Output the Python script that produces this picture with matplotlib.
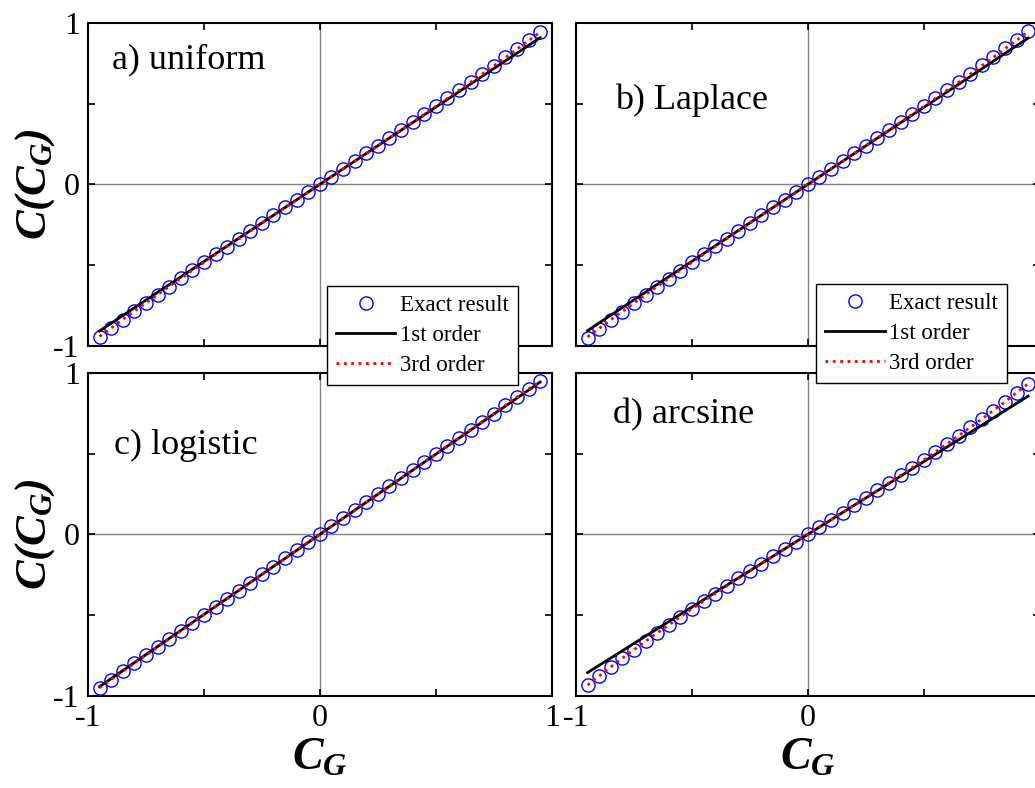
import numpy as np
import matplotlib
matplotlib.use("Agg")
from matplotlib import pyplot as plt

plt.rcParams['font.family'] = ['Liberation Serif', 'DejaVu Serif']
plt.rcParams['mathtext.fontset'] = 'custom'
plt.rcParams['mathtext.rm'] = 'Liberation Serif:italic:bold'
plt.rcParams['mathtext.it'] = 'Liberation Serif:italic:bold'
plt.rcParams['mathtext.bf'] = 'Liberation Serif:bold'

# Gaussian correlation C_G, markers every 0.05
cg = [-0.95, -0.90, -0.85, -0.80, -0.75, -0.70, -0.65, -0.60, -0.55, -0.50,
      -0.45, -0.40, -0.35, -0.30, -0.25, -0.20, -0.15, -0.10, -0.05, 0.0,
      0.05, 0.10, 0.15, 0.20, 0.25, 0.30, 0.35, 0.40, 0.45, 0.50,
      0.55, 0.60, 0.65, 0.70, 0.75, 0.80, 0.85, 0.90, 0.95]
# grid for the 3rd order curves
cg3 = [-0.95, -0.85, -0.75, -0.65, -0.55, -0.45, -0.35, -0.25, -0.15, -0.05,
       0.05, 0.15, 0.25, 0.35, 0.45, 0.55, 0.65, 0.75, 0.85, 0.95]
cg1 = [-0.95, 0.95]

# a) uniform
exact_a = [-0.945, -0.891, -0.838, -0.786, -0.734, -0.683, -0.632, -0.582, -0.532, -0.483,
           -0.433, -0.385, -0.336, -0.288, -0.239, -0.191, -0.143, -0.096, -0.048, 0.0,
           0.048, 0.096, 0.143, 0.191, 0.239, 0.288, 0.336, 0.385, 0.433, 0.483,
           0.532, 0.582, 0.632, 0.683, 0.734, 0.786, 0.838, 0.891, 0.945]
third_a = [-0.941, -0.836, -0.733, -0.632, -0.532, -0.433, -0.336, -0.239, -0.143, -0.048,
           0.048, 0.143, 0.239, 0.336, 0.433, 0.532, 0.632, 0.733, 0.836, 0.941]
first_a = [-0.907, 0.907]

# b) Laplace
exact_b = [-0.948, -0.894, -0.841, -0.788, -0.736, -0.684, -0.633, -0.583, -0.533, -0.483,
           -0.433, -0.384, -0.336, -0.287, -0.239, -0.191, -0.143, -0.095, -0.048, 0.0,
           0.048, 0.095, 0.143, 0.191, 0.239, 0.287, 0.336, 0.384, 0.433, 0.483,
           0.533, 0.583, 0.633, 0.684, 0.736, 0.788, 0.841, 0.894, 0.948]
third_b = [-0.944, -0.838, -0.734, -0.632, -0.532, -0.433, -0.336, -0.239, -0.143, -0.048,
           0.048, 0.143, 0.239, 0.336, 0.433, 0.532, 0.632, 0.734, 0.838, 0.944]
first_b = [-0.905, 0.905]

# c) logistic
exact_c = [-0.949, -0.899, -0.848, -0.798, -0.747, -0.697, -0.647, -0.597, -0.547, -0.497,
           -0.447, -0.397, -0.348, -0.298, -0.248, -0.199, -0.149, -0.099, -0.050, 0.0,
           0.050, 0.099, 0.149, 0.199, 0.248, 0.298, 0.348, 0.397, 0.447, 0.497,
           0.547, 0.597, 0.647, 0.697, 0.747, 0.798, 0.848, 0.899, 0.949]
third_c = [-0.949, -0.848, -0.747, -0.647, -0.547, -0.447, -0.348, -0.248, -0.149, -0.050,
           0.050, 0.149, 0.248, 0.348, 0.447, 0.547, 0.647, 0.747, 0.848, 0.949]
first_c = [-0.942, 0.942]

# d) arcsine
exact_d = [-0.932, -0.876, -0.820, -0.766, -0.713, -0.661, -0.610, -0.559, -0.510, -0.461,
           -0.413, -0.366, -0.319, -0.272, -0.226, -0.181, -0.135, -0.090, -0.045, 0.0,
           0.045, 0.090, 0.135, 0.181, 0.226, 0.272, 0.319, 0.366, 0.413, 0.461,
           0.510, 0.559, 0.610, 0.661, 0.713, 0.766, 0.820, 0.876, 0.932]
third_d = [-0.932, -0.820, -0.713, -0.610, -0.510, -0.413, -0.319, -0.226, -0.135, -0.045,
           0.045, 0.135, 0.226, 0.319, 0.413, 0.510, 0.610, 0.713, 0.820, 0.932]
first_d = [-0.855, 0.855]

panels = [
    ("a) uniform", exact_a, first_a, third_a, (-0.895, 0.77)),
    ("b) Laplace", exact_b, first_b, third_b, (-0.83, 0.52)),
    ("c) logistic", exact_c, first_c, third_c, (-0.89, 0.55)),
    ("d) arcsine", exact_d, first_d, third_d, (-0.84, 0.74)),
]

W, H = 1035, 788
fig = plt.figure(figsize=(W / 100, H / 100), dpi=100)

lefts = [88, 576]
tops = [22.7, 372.7]
pw, ph = 463.7, 323.3

axes = []
for i, (label, ex, fo, to, tpos) in enumerate(panels):
    row, col = divmod(i, 2)
    x0 = lefts[col] / W
    y0 = 1 - (tops[row] + ph) / H
    ax = fig.add_axes([x0, y0, pw / W, ph / H])
    ax.axhline(0, color='#808080', lw=1.0, zorder=1)
    ax.axvline(0, color='#808080', lw=1.0, zorder=1)
    ax.plot(cg, ex, 'o', mfc='none', mec='blue', ms=9.5, mew=1.0, zorder=3,
            label='Exact result')
    ax.plot(cg1, fo, '-', color='black', lw=2.0, zorder=4, label='1st order')
    ax.plot(cg3, to, ':', color='red', lw=2.0, zorder=5, label='3rd order')
    ax.set_xlim(-1, 1)
    ax.set_ylim(-1, 1)
    ax.set_xticks([-1, 0, 1])
    ax.set_yticks([-1, 0, 1])
    ax.set_xticks([-0.5, 0.5], minor=True)
    ax.set_yticks([-0.5, 0.5], minor=True)
    ax.tick_params(which='both', direction='in', top=True, right=True,
                   width=1.2, length=5, labelsize=23, pad=6)
    if col == 1:
        ax.set_xticklabels(['-1', '0', ''])
    else:
        ax.set_xticklabels(['-1', '0', '1'])
    ax.set_yticklabels(['-1', '0', '1'])
    if row == 0:
        ax.tick_params(labelbottom=False)
    if col == 1:
        ax.tick_params(labelleft=False)
    for s in ax.spines.values():
        s.set_linewidth(1.5)
    ax.text(tpos[0], tpos[1], label, fontsize=26, va='center', ha='left')
    axes.append(ax)

# axis titles
for yc in [184.35, 534.35]:
    fig.text(35 / W, 1 - yc / H, r'$C(C_G)$', rotation=90, fontsize=32,
             ha='center', va='center')
for xc in [319.85, 807.85]:
    fig.text(xc / W, 1 - 758 / H, r'$C_G$', fontsize=33,
             ha='center', va='center')

# legends overlapping the panel gap
h, l = axes[0].get_legend_handles_labels()
for bx, by in [(326.7, 286), (816, 284)]:
    fig.legend(h, l, loc='upper left', bbox_to_anchor=(bx / W, 1 - by / H),
               borderaxespad=0, fontsize=16.5, frameon=True, fancybox=False,
               edgecolor='black', framealpha=1, handlelength=2.6,
               labelspacing=0.38, borderpad=0.4, handletextpad=0.2)

fig.savefig("out.png", dpi=100)
